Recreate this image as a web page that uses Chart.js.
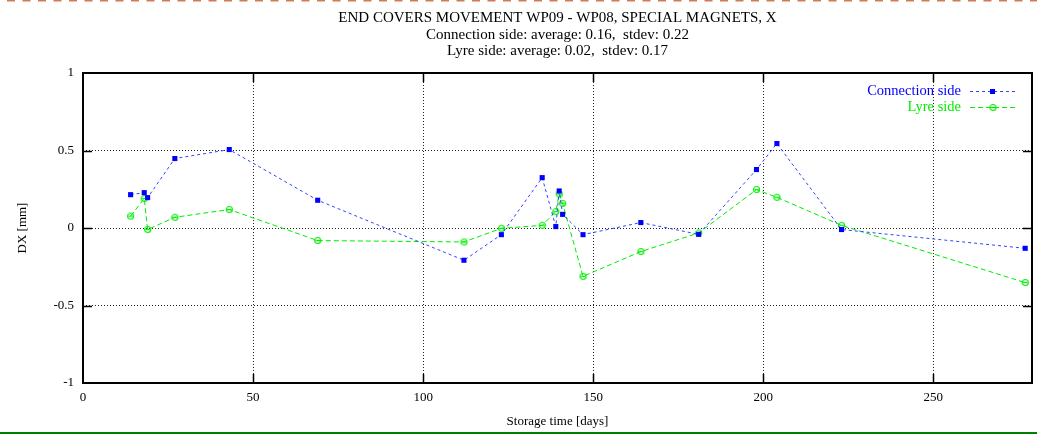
<!DOCTYPE html>
<html><head><meta charset="utf-8">
<script src="https://cdn.jsdelivr.net/npm/chart.js@4"></script>
<style>html,body{margin:0;padding:0;background:#fff;overflow:hidden}canvas{display:block}</style>
</head><body><canvas id="c" width="1037" height="434"></canvas>
<script>
const days = [14, 18, 19, 27, 43, 69, 112, 123, 135, 139, 140, 141, 147, 164, 181, 198, 204, 223, 277];
const connectionSide = [0.215, 0.228, 0.196, 0.448, 0.506, 0.179, -0.208, -0.043, 0.325, 0.009, 0.239, 0.088, -0.043, 0.035, -0.041, 0.377, 0.545, -0.010, -0.131];
const lyreSide = [0.077, 0.190, -0.010, 0.069, 0.119, -0.081, -0.090, -0.002, 0.017, 0.106, 0.219, 0.159, -0.312, -0.152, -0.032, 0.248, 0.198, 0.017, -0.352];
const seriesNames = ['Connection side', 'Lyre side'];
const xTicks = [0, 50, 100, 150, 200, 250];
const yTicks = [-1, -0.5, 0, 0.5, 1];
const yTickLabels = ['-1', '-0.5', '0', '0.5', '1'];
const titleLines = [
  'END COVERS MOVEMENT WP09 - WP08, SPECIAL MAGNETS, X',
  'Connection side: average: 0.16,  stdev: 0.22',
  'Lyre side: average: 0.02,  stdev: 0.17'
];
const xTitle = 'Storage time [days]';
const yTitle = 'DX [mm]';

const SERIF = '"Liberation Serif", "DejaVu Serif", serif';
const BLUE = '#0000ff';
const BLUE_LINE = '#3344ff';
const GREEN = '#00ee00';

// open circle marker with a bar inside (gnuplot style)
function makeCircleMarker(color) {
  const c = document.createElement('canvas');
  c.width = 9; c.height = 9;
  const g = c.getContext('2d');
  g.strokeStyle = color; g.lineWidth = 1.2;
  g.beginPath(); g.arc(4.5, 4.5, 3, 0, Math.PI * 2); g.stroke();
  g.beginPath(); g.moveTo(2.5, 4.5); g.lineTo(6.5, 4.5); g.stroke();
  return c;
}
const greenMarker = makeCircleMarker(GREEN);

const pts = (ys) => days.map((d, i) => ({x: d, y: ys[i]}));

const decoPlugin = {
  id: 'deco',
  beforeDraw(chart) {
    const ctx = chart.ctx;
    ctx.save();
    ctx.fillStyle = '#fff';
    ctx.fillRect(0, 0, chart.width, chart.height);
    ctx.restore();
  },
  afterDraw(chart) {
    const ctx = chart.ctx;
    const a = chart.chartArea;
    const xs = chart.scales.x, ys = chart.scales.y;
    ctx.save();
    // frame
    ctx.strokeStyle = '#000';
    ctx.lineWidth = 2;
    ctx.strokeRect(a.left, a.top, a.right - a.left, a.bottom - a.top);
    // inward tick marks (mirrored)
    ctx.lineWidth = 1.5;
    const tl = 9;
    xTicks.forEach(v => {
      if (v <= xs.min || v >= xs.max) return;
      const px = Math.round(xs.getPixelForValue(v)) + 0.5;
      ctx.beginPath();
      ctx.moveTo(px, a.bottom); ctx.lineTo(px, a.bottom - tl);
      ctx.moveTo(px, a.top); ctx.lineTo(px, a.top + tl);
      ctx.stroke();
    });
    yTicks.forEach(v => {
      if (v <= ys.min || v >= ys.max) return;
      const py = Math.round(ys.getPixelForValue(v)) + 0.5;
      ctx.beginPath();
      ctx.moveTo(a.left, py); ctx.lineTo(a.left + tl, py);
      ctx.moveTo(a.right, py); ctx.lineTo(a.right - tl, py);
      ctx.stroke();
    });
    // titles
    const cx = (a.left + a.right) / 2;
    ctx.fillStyle = '#000';
    ctx.textAlign = 'center';
    ctx.textBaseline = 'middle';
    ctx.font = '15px ' + SERIF;
    const ty = [18, 35, 51];
    titleLines.forEach((t, i) => ctx.fillText(t, cx, ty[i]));
    // legend
    const legendRows = [
      {name: seriesNames[0], color: BLUE, line: BLUE_LINE, dash: [3, 3], y: 91, marker: 'rect'},
      {name: seriesNames[1], color: GREEN, line: GREEN, dash: [5, 3], y: 107, marker: 'circle'}
    ];
    ctx.font = '14.5px ' + SERIF;
    ctx.textAlign = 'right';
    legendRows.forEach(r => {
      ctx.fillStyle = r.color;
      ctx.fillText(r.name, 961, r.y);
      ctx.strokeStyle = r.line;
      ctx.lineWidth = 1;
      ctx.setLineDash(r.dash);
      ctx.beginPath(); ctx.moveTo(970, r.y + 0.5); ctx.lineTo(1016, r.y + 0.5); ctx.stroke();
      ctx.setLineDash([]);
      if (r.marker === 'rect') {
        ctx.fillStyle = r.color;
        ctx.fillRect(990, r.y - 2, 5, 5);
      } else {
        ctx.drawImage(greenMarker, 993 - 4.5, r.y + 0.5 - 4.5);
      }
    });
    // page decorations: dashed line top, green line bottom
    ctx.strokeStyle = '#d47a52';
    ctx.lineWidth = 1.5;
    ctx.setLineDash([8, 7.5]);
    ctx.lineDashOffset = -7;
    ctx.beginPath(); ctx.moveTo(0, 0.75); ctx.lineTo(chart.width, 0.75); ctx.stroke();
    ctx.setLineDash([]);
    ctx.strokeStyle = '#008000';
    ctx.lineWidth = 2;
    ctx.beginPath(); ctx.moveTo(0, 433); ctx.lineTo(chart.width, 433); ctx.stroke();
    ctx.restore();
  }
};

const gridColor = (lo, hi) => (c) => {
  const v = c.tick && c.tick.value;
  return (v > lo && v < hi) ? '#222' : 'rgba(0,0,0,0)';
};

new Chart(document.getElementById('c'), {
  type: 'line',
  data: {
    datasets: [
      {
        label: seriesNames[0],
        data: pts(connectionSide),
        borderColor: BLUE_LINE,
        backgroundColor: BLUE,
        borderWidth: 1,
        borderDash: [3, 3],
        pointStyle: 'rect',
        pointRadius: 3.6,
        pointBorderWidth: 0,
        pointBackgroundColor: BLUE,
        tension: 0,
        fill: false
      },
      {
        label: seriesNames[1],
        data: pts(lyreSide),
        borderColor: GREEN,
        backgroundColor: GREEN,
        borderWidth: 1,
        borderDash: [5, 3],
        pointStyle: greenMarker,
        pointRadius: 4,
        tension: 0,
        fill: false
      }
    ]
  },
  options: {
    responsive: false,
    animation: false,
    events: [],
    layout: {padding: {top: 73, right: 3.5, bottom: 0, left: 0}},
    plugins: {legend: {display: false}, title: {display: false}, tooltip: {enabled: false}},
    scales: {
      x: {
        type: 'linear',
        min: 0, max: 279,
        afterBuildTicks: (s) => { s.ticks = xTicks.map(v => ({value: v})); },
        afterFit: (s) => { s.height = 51; },
        ticks: {color: '#000', font: {family: SERIF, size: 13}, padding: 7, maxRotation: 0, autoSkip: false},
        grid: {color: gridColor(0, 279), lineWidth: 1, drawTicks: false},
        border: {display: false, dash: [1, 2]},
        title: {display: true, text: xTitle, color: '#000', font: {family: SERIF, size: 13}, padding: {top: 5, bottom: 5}}
      },
      y: {
        type: 'linear',
        min: -1, max: 1,
        afterBuildTicks: (s) => { s.ticks = yTicks.map(v => ({value: v})); },
        afterFit: (s) => { s.width = 83; },
        ticks: {color: '#000', font: {family: SERIF, size: 13}, padding: 9,
          callback: (v) => { const i = yTicks.indexOf(v); return i >= 0 ? yTickLabels[i] : ''; }},
        grid: {color: gridColor(-1, 1), lineWidth: 1, drawTicks: false},
        border: {display: false, dash: [1, 2]},
        title: {display: true, text: yTitle, color: '#000', font: {family: SERIF, size: 13}, padding: {top: 15, bottom: 0}}
      }
    }
  },
  plugins: [decoPlugin]
});
</script>
</body></html>
